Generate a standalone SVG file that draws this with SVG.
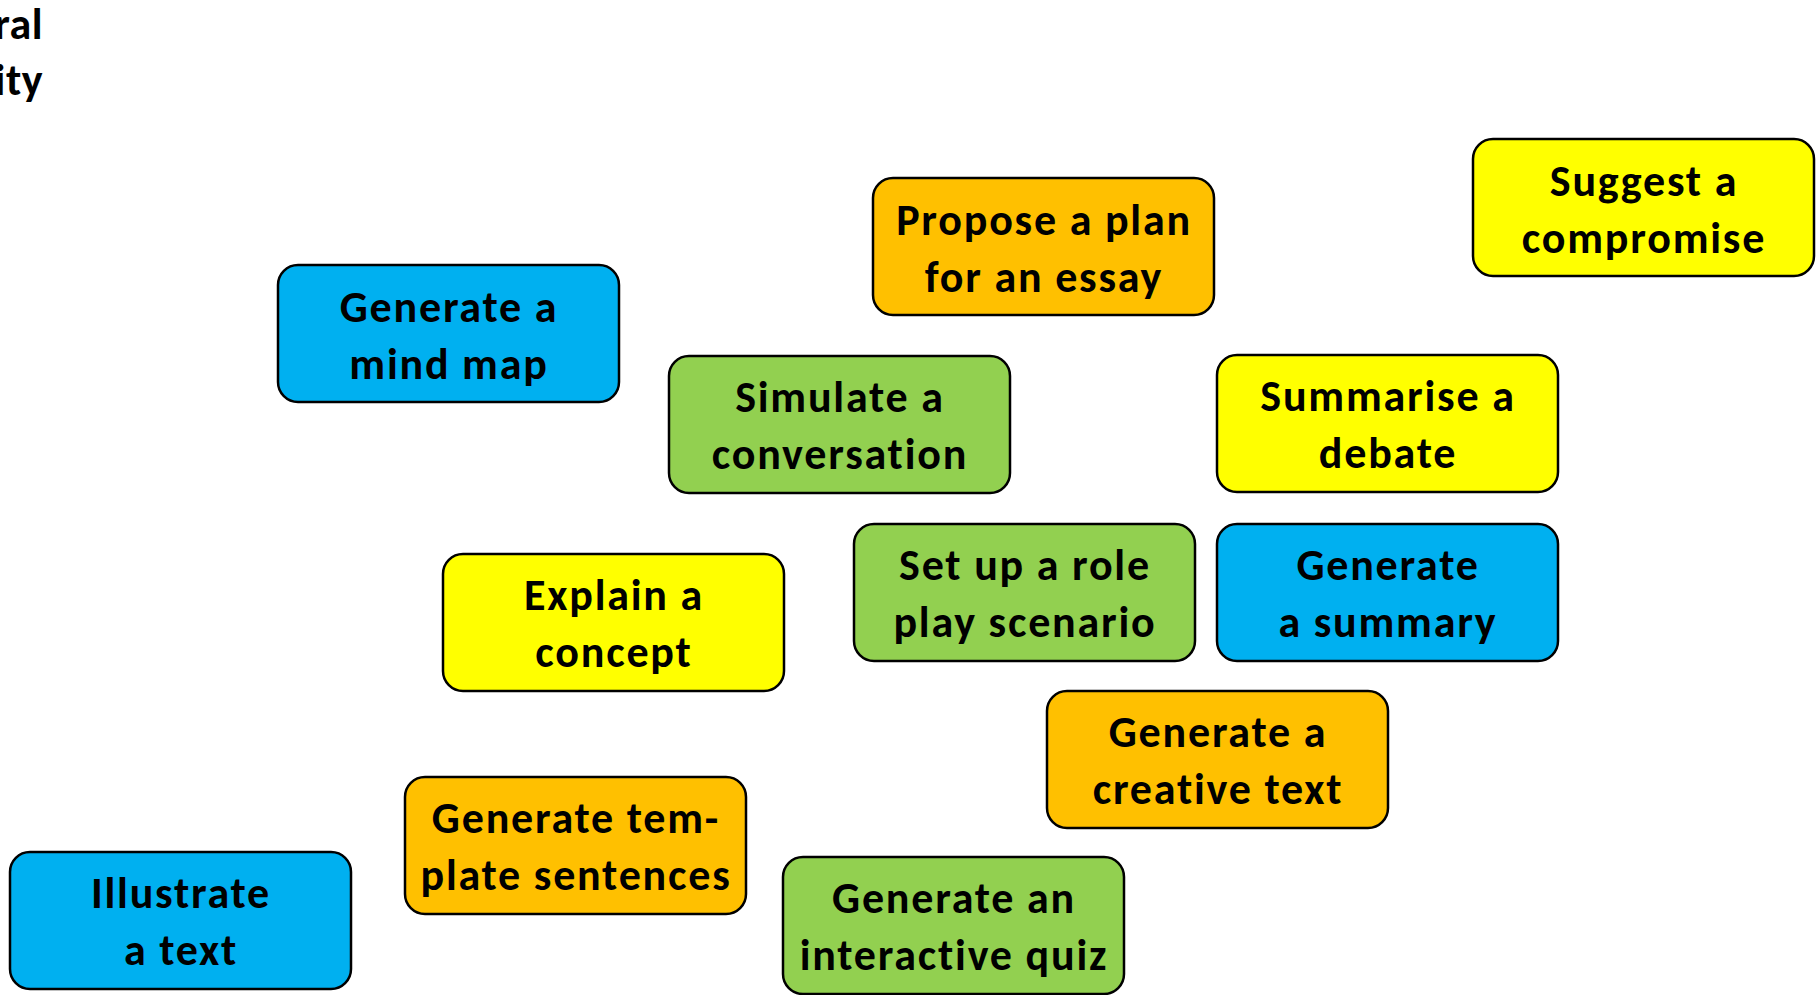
<svg xmlns="http://www.w3.org/2000/svg" width="1818" height="995" viewBox="0 0 1818 995">
<style>
.box{stroke:#000;stroke-width:2.5}
.blue{fill:#00B0F0}.orange{fill:#FFC000}.yellow{fill:#FFFF00}.green{fill:#92D050}
text{font-family:Carlito,Lato,"Liberation Sans",sans-serif;font-weight:bold;font-size:44px;letter-spacing:1.8px;fill:#000;text-anchor:middle}
.cut{text-anchor:end;letter-spacing:0.5px}
</style>
<rect width="1818" height="995" fill="#fff"/>
<g id="title"><text class="cut" x="43" y="39">ral</text><text class="cut" x="43" y="95">ity</text></g>
<g id="connectors"></g>
<g id="n-mindmap"><rect class="box blue" x="278" y="265" width="341" height="137" rx="20"/><text x="449" y="322">Generate a</text><text x="449" y="379">mind map</text></g>
<g id="n-plan"><rect class="box orange" x="873" y="178" width="341" height="137" rx="20"/><text x="1044" y="235">Propose a plan</text><text x="1044" y="292">for an essay</text></g>
<g id="n-compromise"><rect class="box yellow" x="1473" y="139" width="341" height="137" rx="20"/><text x="1644" y="196">Suggest a</text><text x="1644" y="253">compromise</text></g>
<g id="n-simulate"><rect class="box green" x="669" y="356" width="341" height="137" rx="20"/><text x="840" y="412">Simulate a</text><text x="840" y="469">conversation</text></g>
<g id="n-debate"><rect class="box yellow" x="1217" y="355" width="341" height="137" rx="20"/><text x="1388" y="411">Summarise a</text><text x="1388" y="468">debate</text></g>
<g id="n-roleplay"><rect class="box green" x="854" y="524" width="341" height="137" rx="20"/><text x="1025" y="580">Set up a role</text><text x="1025" y="637">play scenario</text></g>
<g id="n-summary"><rect class="box blue" x="1217" y="524" width="341" height="137" rx="20"/><text x="1388" y="580">Generate</text><text x="1388" y="637">a summary</text></g>
<g id="n-concept"><rect class="box yellow" x="443" y="554" width="341" height="137" rx="20"/><text x="614" y="610">Explain a</text><text x="614" y="667">concept</text></g>
<g id="n-creative"><rect class="box orange" x="1047" y="691" width="341" height="137" rx="20"/><text x="1218" y="747">Generate a</text><text x="1218" y="804">creative text</text></g>
<g id="n-template"><rect class="box orange" x="405" y="777" width="341" height="137" rx="20"/><text x="576" y="833">Generate tem-</text><text x="576" y="890">plate sentences</text></g>
<g id="n-illustrate"><rect class="box blue" x="10" y="852" width="341" height="137" rx="20"/><text x="181" y="908">Illustrate</text><text x="181" y="965">a text</text></g>
<g id="n-quiz"><rect class="box green" x="783" y="857" width="341" height="137" rx="20"/><text x="954" y="913">Generate an</text><text x="954" y="970">interactive quiz</text></g>
</svg>
